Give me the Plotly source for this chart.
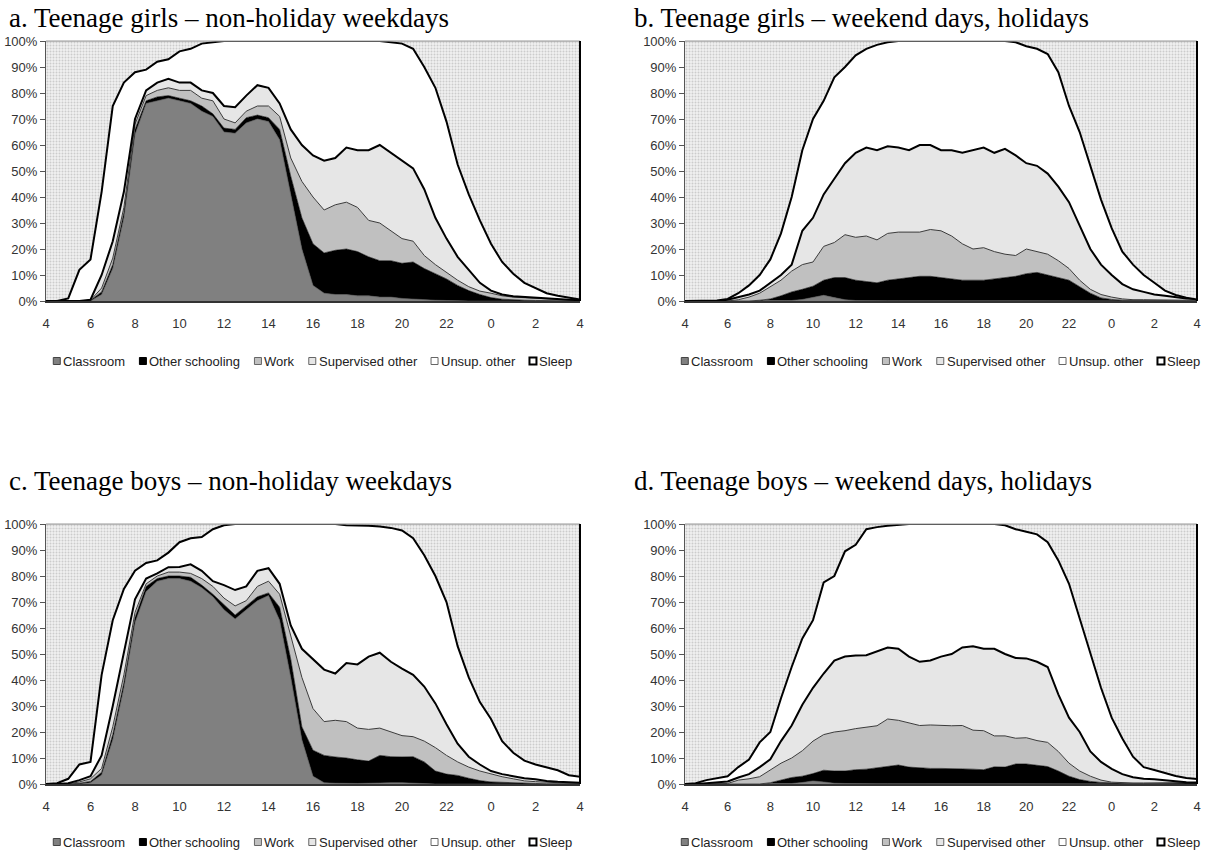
import plotly.graph_objects as go

# ---------------- data (cumulative % of teens, stacked from bottom) ----------------
HOURS = [4.0, 4.5, 5.0, 5.5, 6.0, 6.5, 7.0, 7.5, 8.0, 8.5,
         9.0, 9.5, 10.0, 10.5, 11.0, 11.5, 12.0, 12.5, 13.0, 13.5,
         14.0, 14.5, 15.0, 15.5, 16.0, 16.5, 17.0, 17.5, 18.0, 18.5,
         19.0, 19.5, 20.0, 20.5, 21.0, 21.5, 22.0, 22.5, 23.0, 23.5,
         24.0, 24.5, 25.0, 25.5, 26.0, 26.5, 27.0, 27.5, 28.0]
TICK_VALS = [4, 6, 8, 10, 12, 14, 16, 18, 20, 22, 24, 26, 28]
TICK_TEXT = ["4", "6", "8", "10", "12", "14", "16", "18", "20", "22", "0", "2", "4"]
Y_TICKS = [0, 10, 20, 30, 40, 50, 60, 70, 80, 90, 100]
Y_TEXT = ["0%", "10%", "20%", "30%", "40%", "50%", "60%", "70%", "80%", "90%", "100%"]
CATEGORIES = ["Classroom", "Other schooling", "Work", "Supervised other", "Unsup. other", "Sleep"]
TITLES = ["a. Teenage girls \u2013 non-holiday weekdays",
          "b. Teenage girls \u2013 weekend days, holidays",
          "c. Teenage boys \u2013 non-holiday weekdays",
          "d. Teenage boys \u2013 weekend days, holidays"]

# Panel a: girls, weekdays
A_CLASSROOM = [0, 0, 0, 0, 0, 2.5, 12.5, 32, 64, 76,
               77, 78, 77, 76, 73, 71, 65, 64.5, 68.5, 70,
               69, 62, 41, 20, 6, 3, 2.5, 2.5, 2, 2,
               1.5, 1.5, 1, 0.7, 0.5, 0.3, 0.2, 0, 0, 0,
               0, 0, 0, 0, 0, 0, 0, 0, 0]
A_OTHER = [0, 0, 0, 0, 0.3, 3.5, 14, 34, 66, 77,
           78.5, 79, 78, 77, 75, 72, 66.5, 66, 70.5, 71.5,
           70.5, 66, 48, 32, 22, 18.5, 19.5, 20, 19, 17,
           15.5, 15.5, 14.5, 15, 12.5, 10.5, 8.5, 6, 4, 2.5,
           1.3, 0.7, 0.4, 0.3, 0.2, 0.1, 0.1, 0.1, 0.1]
A_WORK = [0, 0, 0, 0, 0.3, 5, 16.5, 36, 68, 79,
          81, 82, 81, 81, 78, 77, 70, 68.5, 73, 75,
          75, 71, 55, 46, 40, 35, 37, 38, 36, 31,
          30, 27, 24, 23, 17.5, 14, 11, 8, 5.5, 3.8,
          3, 2, 1.5, 1.3, 1, 0.8, 0.5, 0.3, 0.2]
A_SUPER = [0, 0, 0, 0, 0.5, 10, 23, 42, 70, 81,
           84, 85.5, 84, 84, 81, 80, 75, 74.5, 79, 83,
           82, 76, 66, 60, 56, 54, 55, 59, 58, 58,
           60, 57, 54, 51, 43, 32, 24, 17, 12, 7,
           4, 2.5, 1.8, 1.5, 1.2, 1, 0.8, 0.5, 0.3]
A_UNSUP = [0, 0, 1, 12, 16, 42, 75, 84, 88, 89,
           92, 93, 96, 97, 99, 99.5, 100, 100, 100, 100,
           100, 100, 100, 100, 100, 100, 100, 100, 100, 100,
           100, 99.5, 99, 97, 90, 82, 69, 52.5, 41, 31,
           22, 15, 10.5, 7, 5, 3, 2, 1.2, 0.6]

# Panel b: girls, weekend / holidays
B_CLASSROOM = [0, 0, 0, 0, 0, 0, 0, 0, 0, 0,
               0.2, 0.6, 1.5, 2.2, 1.3, 0.5, 0.2, 0.1, 0.1, 0.1,
               0.1, 0.1, 0.2, 0.2, 0.2, 0.1, 0.1, 0.2, 0.1, 0.1,
               0.1, 0.1, 0.1, 0.1, 0.1, 0, 0, 0, 0, 0,
               0, 0, 0, 0, 0, 0, 0, 0, 0]
B_OTHER = [0, 0, 0, 0, 0, 0, 0, 0.3, 0.8, 2,
           3.5, 4.5, 5.7, 8, 9, 9, 8, 7.5, 7, 8,
           8.5, 9, 9.5, 9.5, 9, 8.5, 8, 8, 8, 8.5,
           9, 9.5, 10.5, 11, 10, 9, 8, 5.5, 3, 1.2,
           0.6, 0.3, 0.3, 0.3, 0.2, 0.2, 0.2, 0.2, 0.2]
B_WORK = [0, 0, 0, 0, 0, 0.5, 1.5, 3, 5.5, 8,
          11.5, 14, 15, 21, 22.5, 25.5, 24.5, 25, 23.5, 26,
          26.5, 26.5, 26.5, 27.5, 27, 25, 22, 20, 20.5, 19,
          18, 17.5, 20, 19, 18, 15.5, 12.5, 8, 4.5, 2.5,
          1.5, 0.8, 0.5, 0.5, 0.4, 0.3, 0.3, 0.3, 0.3]
B_SUPER = [0, 0, 0, 0, 0.5, 1.5, 2.5, 4, 7, 10,
           14, 27, 32, 41, 47, 53, 57, 59, 58, 59.5,
           59, 58, 60, 60, 58, 58, 57, 58, 59, 57,
           58.5, 56, 53, 52, 49, 44, 38, 29, 20, 14,
           10, 6.5, 4.5, 3.5, 2.5, 2, 1.5, 1, 0.8]
B_UNSUP = [0, 0, 0, 0.2, 0.8, 3, 6, 10, 16, 26,
           40, 58, 70, 77, 86, 90, 94.5, 97, 98.5, 99.5,
           100, 100, 100, 100, 100, 100, 100, 100, 100, 100,
           100, 99.5, 98, 97, 95, 88, 75, 65, 52, 39,
           28, 19, 14, 10, 7, 4, 2.3, 1.3, 0.6]

# Panel c: boys, weekdays
C_CLASSROOM = [0, 0, 0, 0, 0.5, 3.5, 17, 37, 62, 74,
               78, 79, 79, 78, 75.5, 72, 67, 63.5, 67, 70.5,
               72.5, 63, 41, 17, 3, 0.5, 0.3, 0.2, 0.2, 0.3,
               0.5, 0.5, 0.5, 0.3, 0.2, 0, 0, 0, 0, 0,
               0, 0, 0, 0, 0, 0, 0, 0, 0]
C_OTHER = [0, 0, 0, 0.3, 1, 4.5, 19, 39, 64, 76,
           79, 80, 80, 79.5, 76.5, 73, 69, 65, 68.5, 72,
           73.5, 68, 48, 22, 13, 11, 10.4, 10, 9.3, 8.8,
           11, 10.5, 10.4, 10.5, 8.5, 5, 3.8, 3.3, 2.2, 1.3,
           0.8, 0.6, 0.4, 0.3, 0.2, 0.1, 0.1, 0.1, 0.1]
C_WORK = [0, 0, 0, 0.8, 2, 6, 22, 42, 66, 77,
          80, 81.5, 81.5, 81, 79, 76, 71.5, 68.5, 70.5, 76,
          78, 73, 57, 41, 29, 24, 24.5, 24, 21.5, 21,
          21.5, 20, 18.6, 18.2, 16.5, 14, 11, 8.5, 6.5, 5,
          3.8, 2.8, 2, 1.2, 0.9, 0.6, 0.5, 0.4, 0.3]
C_SUPER = [0, 0, 0.3, 1.5, 3, 11, 30, 50, 71, 79,
           81, 83.4, 83.5, 84.5, 82, 78, 76.5, 74.6, 76, 82,
           83, 77, 61, 52, 48, 44, 42.5, 46.5, 46, 49,
           50.5, 47, 44.4, 42, 37.5, 31, 23, 15.5, 10.5, 7.5,
           5, 3.8, 3, 2.2, 1.8, 1.2, 0.9, 0.6, 0.5]
C_UNSUP = [0, 0.3, 2, 7.5, 8.5, 42, 63, 75, 82, 85,
           86, 89, 93, 94.5, 95, 98, 99.5, 100, 100, 100,
           100, 100, 100, 100, 100, 100, 100, 99.5, 99.5, 99.3,
           99, 98.5, 97.5, 94.5, 88, 80, 70, 53, 41, 31.5,
           25, 16.5, 12, 9, 7.5, 6.5, 5.3, 3.4, 2.8]

# Panel d: boys, weekend / holidays
D_CLASSROOM = [0, 0, 0, 0, 0, 0, 0, 0, 0, 0,
               0.2, 0.6, 1.2, 0.8, 0.3, 0.2, 0.1, 0.1, 0.1, 0.1,
               0.1, 0.1, 0.1, 0.1, 0.1, 0.1, 0.1, 0.1, 0.1, 0.1,
               0.1, 0.1, 0.1, 0, 0, 0, 0, 0, 0, 0,
               0, 0, 0, 0, 0, 0, 0, 0, 0]
D_OTHER = [0, 0, 0, 0, 0, 0, 0, 0, 0.5, 1.5,
           2.5, 3, 4, 5.3, 5, 5, 5.5, 5.7, 6.2, 6.6,
           7.3, 6.5, 6.2, 6, 6, 6, 5.8, 5.7, 5.5, 6.6,
           6.5, 7.7, 7.7, 7.2, 6.7, 5, 3, 1.7, 1, 0.6,
           0.4, 0.3, 0.2, 0.2, 0.2, 0.2, 0.3, 0.4, 0.5]
D_WORK = [0, 0, 0, 0, 0.2, 1.5, 2, 2.8, 5.4, 8,
          10, 12.8, 16.5, 19, 20, 20.5, 21.3, 21.8, 22.4, 25,
          24.5, 23.5, 22.5, 22.7, 22.5, 22.4, 22.5, 20.7, 20.5, 18.5,
          18.5, 17.6, 17.8, 16.7, 16, 12.5, 8, 5, 3, 1.5,
          0.7, 0.5, 0.4, 0.4, 0.4, 0.4, 0.4, 0.5, 0.6]
D_SUPER = [0, 0, 0.3, 0.7, 1, 2.5, 3.8, 6.5, 9.5, 16.5,
           22.5, 30.5, 37, 42.5, 47.5, 49, 49.4, 49.5, 51, 52.5,
           52, 49, 47, 47.5, 49, 50, 52.5, 53, 52, 52,
           50, 48.5, 48.3, 47, 45, 34.5, 25.5, 20, 12.5, 8.5,
           5.8, 3.8, 2.6, 2, 1.8, 1.4, 1, 0.7, 0.6]
D_UNSUP = [0, 0.3, 1.5, 2.2, 3, 6.5, 9.4, 16, 20, 33,
           45, 56, 63, 77.5, 80, 89.5, 92, 98, 98.8, 99.3,
           99.7, 100, 100, 100, 100, 100, 100, 100, 100, 100,
           99.5, 98, 97, 96, 93, 86, 77, 63.5, 51, 37,
           25.5, 17.5, 10.5, 6.5, 5.4, 4.3, 3.1, 2.3, 1.9]

PANELS = [
    [A_CLASSROOM, A_OTHER, A_WORK, A_SUPER, A_UNSUP],
    [B_CLASSROOM, B_OTHER, B_WORK, B_SUPER, B_UNSUP],
    [C_CLASSROOM, C_OTHER, C_WORK, C_SUPER, C_UNSUP],
    [D_CLASSROOM, D_OTHER, D_WORK, D_SUPER, D_UNSUP],
]

# ---------------- styling ----------------
W, H = 1210, 850
FILL = ["#808080", "#000000", "#c0c0c0", "#e6e6e6", "#ffffff"]
LINE_COL = ["#555555", "#000000", "#3a3a3a", "#000000", "#000000"]
LINE_W = [0.6, 0.6, 1.0, 2.0, 2.0]
LEG_FILL = ["#808080", "#000000", "#c0c0c0", "#e6e6e6", "#ffffff", "#ffffff"]
LEG_LINE = ["#444444", "#000000", "#666666", "#666666", "#666666", "#000000"]
LEG_LW = [1, 1, 1, 1, 1, 2]
TXT_FONT = "Liberation Sans"
LEG_SIZE = 13
TICK_SIZE = 13

# pixel boxes (left, right, top, bottom) of each plot area
BOXES = [(46, 580, 41, 301), (685, 1197, 41, 301),
         (46, 580, 524, 784), (685, 1197, 524, 784)]
TITLE_POS = [(8, 18), (633, 18), (8, 481), (633, 481)]
LEGEND_Y = [361, 361, 842, 842]

# Arial/Liberation Sans advance widths (per em) for legend layout
CW = {' ': .278, '.': .278, 'C': .722, 'O': .778, 'W': .944, 'S': .667, 'U': .722,
      'a': .556, 'c': .5, 'd': .556, 'e': .556, 'g': .556, 'h': .556, 'i': .222,
      'k': .5, 'l': .222, 'm': .833, 'n': .556, 'o': .556, 'p': .556, 'r': .333,
      's': .5, 't': .278, 'u': .556, 'v': .5}


def text_w(s, size):
    return sum(CW.get(ch, .556) for ch in s) * size


MK, MK_GAP, ITEM_GAP = 7, 3, 14

fig = go.Figure()
layout = dict(width=W, height=H, margin=dict(l=0, r=0, t=0, b=0, autoexpand=False),
              paper_bgcolor="white", plot_bgcolor="white",
              hovermode=False, showlegend=False, annotations=[], shapes=[])

for i, layers in enumerate(PANELS):
    s = "" if i == 0 else str(i + 1)
    xa, ya = "x" + s, "y" + s
    for j, top in enumerate(layers):
        fig.add_trace(go.Scatter(
            x=HOURS, y=top, mode="lines", xaxis=xa, yaxis=ya,
            fill="tozeroy" if j == 0 else "tonexty", fillcolor=FILL[j],
            line=dict(color=LINE_COL[j], width=LINE_W[j]),
            showlegend=False, hoverinfo="skip"))
    # sleep: remaining share up to 100 %
    fig.add_trace(go.Scatter(
        x=HOURS, y=[100] * len(HOURS), mode="lines", xaxis=xa, yaxis=ya,
        fill="tonexty", fillcolor="#e4e4e4",
        fillpattern=dict(shape=".", bgcolor="#f0f0f0", fgcolor="#a8a8a8", size=3, solidity=0.35),
        line=dict(color="#888888", width=0.5), showlegend=False, hoverinfo="skip"))

    l, r, t, b = BOXES[i]
    layout["xaxis" + s] = dict(domain=[l / W, r / W], range=[4, 28], anchor=ya,
                               tickvals=TICK_VALS, ticktext=TICK_TEXT, ticks="",
                               ticklabelstandoff=10,
                               showgrid=False, zeroline=False, showline=True,
                               linecolor="#333333", linewidth=1.5, mirror=False,
                               tickfont=dict(family=TXT_FONT, size=TICK_SIZE, color="#333333"),
                               fixedrange=True)
    layout["yaxis" + s] = dict(domain=[1 - b / H, 1 - t / H], range=[0, 100], anchor=xa,
                               tickvals=Y_TICKS, ticktext=Y_TEXT, ticks="outside",
                               ticklen=5, tickcolor="#555555",
                               showgrid=False, zeroline=False, showline=True,
                               linecolor="#555555", linewidth=1, mirror=False,
                               tickfont=dict(family=TXT_FONT, size=TICK_SIZE, color="#333333"),
                               fixedrange=True)
    # frame: top thin grey, right black
    layout["shapes"].append(dict(type="line", xref=xa + " domain", yref=ya + " domain",
                                 x0=0, x1=1, y0=1, y1=1, line=dict(color="#999999", width=1)))
    layout["shapes"].append(dict(type="line", xref=xa + " domain", yref=ya + " domain",
                                 x0=1, x1=1, y0=0, y1=1, line=dict(color="#000000", width=2)))
    tx, ty = TITLE_POS[i]
    layout["annotations"].append(dict(
        text=TITLES[i], xref="paper", yref="paper", x=tx / W, y=1 - ty / H,
        xanchor="left", yanchor="middle", showarrow=False, borderpad=0,
        font=dict(family="Liberation Serif", size=27, color="#000000")))

    # legend row (Excel-style: small square right before each label)
    widths = [text_w(c, LEG_SIZE) for c in CATEGORIES]
    total = sum(MK + MK_GAP + w_ for w_ in widths) + ITEM_GAP * (len(CATEGORIES) - 1)
    cx = (l + r) / 2
    px = cx - total / 2
    ly = LEGEND_Y[i]
    for k, name in enumerate(CATEGORIES):
        layout["shapes"].append(dict(
            type="rect", xref="paper", yref="paper",
            x0=px / W, x1=(px + MK) / W, y0=1 - (ly + MK / 2) / H, y1=1 - (ly - MK / 2) / H,
            fillcolor=LEG_FILL[k], line=dict(color=LEG_LINE[k], width=LEG_LW[k])))
        layout["annotations"].append(dict(
            text=name, xref="paper", yref="paper", x=(px + MK + MK_GAP - 2) / W, y=1 - ly / H,
            xanchor="left", yanchor="middle", showarrow=False,
            font=dict(family=TXT_FONT, size=LEG_SIZE, color="#222222")))
        px += MK + MK_GAP + widths[k] + ITEM_GAP

fig.update_layout(**layout)
fig.write_html("out.html", config={"displayModeBar": False, "staticPlot": True},
               post_script="document.body.style.margin='0';document.body.style.overflow='hidden';")
